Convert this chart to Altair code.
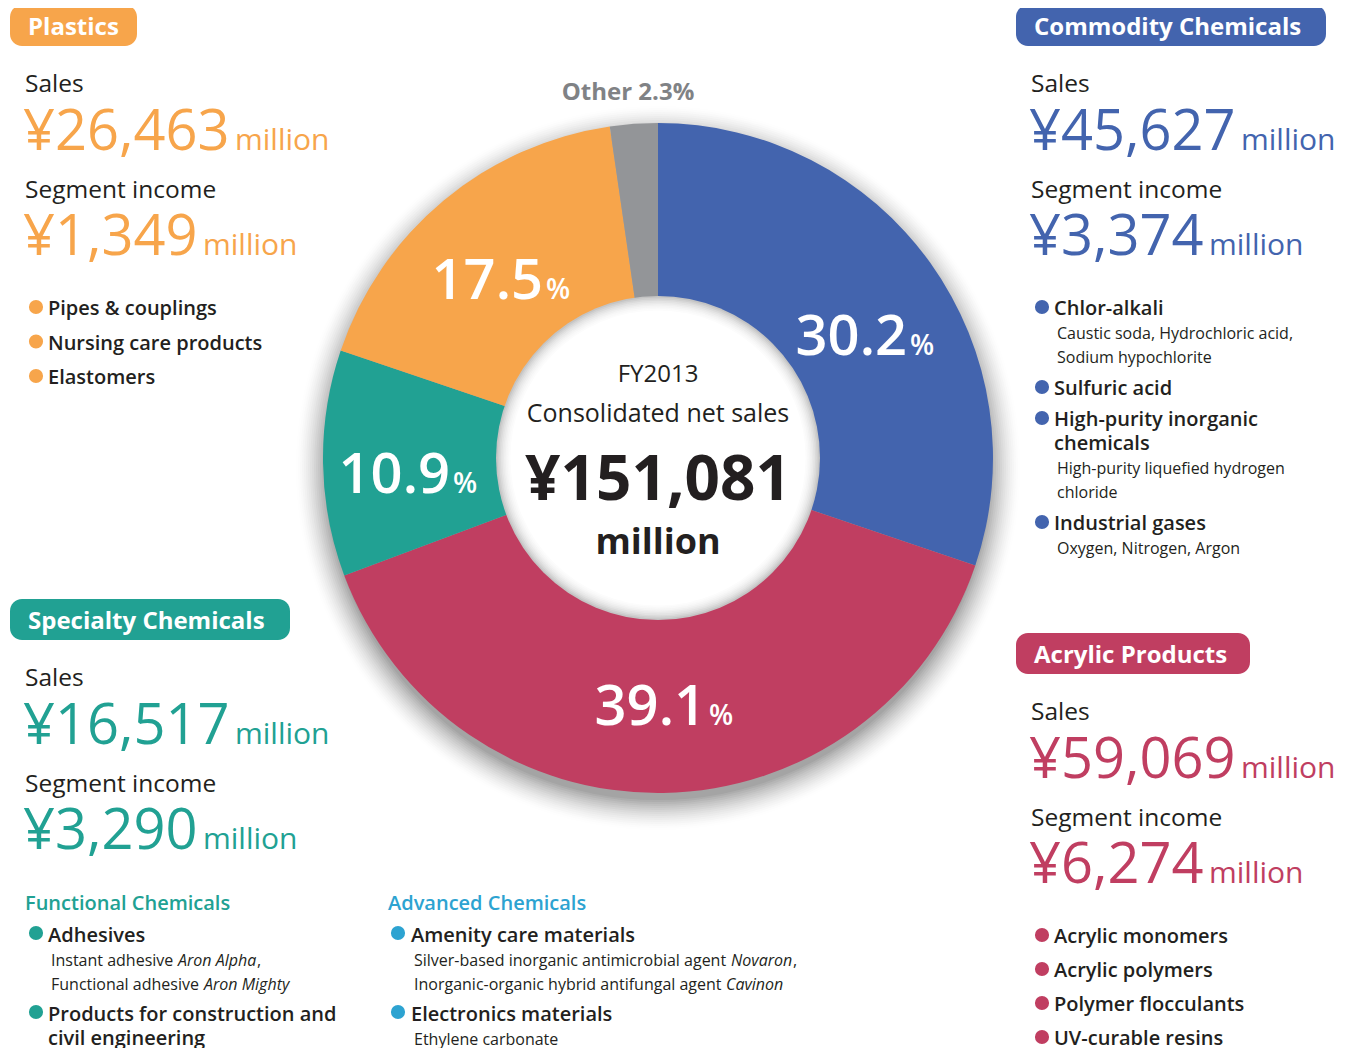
import altair as alt
import pandas as pd

# ---------------- data ----------------
segments = ["Commodity Chemicals", "Acrylic Products", "Specialty Chemicals", "Plastics", "Other"]
shares = [30.2, 39.1, 10.9, 17.5, 2.3]
seg_colors = ["#4364AE", "#C03E61", "#21A193", "#F7A54B", "#939598"]
share_text = ["30.2", "39.1", "10.9", "17.5"]
sales_values = ["¥45,627", "¥59,069", "¥16,517", "¥26,463"]
income_values = ["¥3,374", "¥6,274", "¥3,290", "¥1,349"]
center_lines = ["FY2013", "Consolidated net sales", "¥151,081", "million"]
other_label = "Other 2.3%"
plastics_items = ["Pipes & couplings", "Nursing care products", "Elastomers"]
acrylic_items = ["Acrylic monomers", "Acrylic polymers", "Polymer flocculants", "UV-curable resins"]
commodity_heads = ["Chlor-alkali", "Sulfuric acid", "High-purity inorganic", "chemicals", "Industrial gases"]
commodity_subs = ["Caustic soda, Hydrochloric acid,", "Sodium hypochlorite",
                  "High-purity liquefied hydrogen", "chloride", "Oxygen, Nitrogen, Argon"]
specialty_groups = ["Functional Chemicals", "Advanced Chemicals"]
functional_heads = ["Adhesives", "Products for construction and", "civil engineering"]
advanced_heads = ["Amenity care materials", "Electronics materials"]

# ---------------- style / layout ----------------
FONT = "Open Sans"
DARK = "#231F20"
CYAN = "#2DA3D1"
OTHER_TXT = "#808285"
W, H = 1332, 1040
CX, CY = 658 - 8, 458 - 8
R_OUT, R_IN = 335, 162


def P(v):
    return v - 8


texts = []


def T(text, x, y, size, color=DARK, weight="normal", italic=False, align="left"):
    texts.append(dict(text=text, x=P(x), y=P(y), size=size, color=color,
                      weight=weight, italic=italic, align=align))


# segment panels: (index, x, badge top, badge width)
panels = [(0, 1031, 5, 310), (1, 1031, 633, 234), (2, 25, 599, 280), (3, 25, 5, 127)]
badges = []
for i, x, yb, bw in panels:
    badges.append(dict(x=P(x - 15), x2=P(x - 15 + bw), y=P(yb), y2=P(yb + 41), c=seg_colors[i]))
    T(segments[i], x + 3, yb + 30, 24, "#FFFFFF", "bold")
    T("Sales", x, yb + 87, 24.5)
    T(sales_values[i], x - 2, yb + 145, 56, seg_colors[i])
    T("million", x + 210, yb + 145, 30, seg_colors[i])
    T("Segment income", x, yb + 193, 24.5)
    T(income_values[i], x - 2, yb + 250, 56, seg_colors[i])
    T("million", x + 178, yb + 250, 30, seg_colors[i])

bullets = []


def B(x, y, c):
    bullets.append(dict(x=P(x), y=P(y), c=c))


# Plastics list
for k, item in enumerate(plastics_items):
    B(36, 307 + 34.5 * k, seg_colors[3])
    T(item, 48, 315 + 34.5 * k, 20, DARK, 600)

# Acrylic list
for k, item in enumerate(acrylic_items):
    B(1042, 935 + 34 * k, seg_colors[1])
    T(item, 1054, 943 + 34 * k, 20, DARK, 600)

# Commodity list
for yb_ in [307, 387, 418, 522]:
    B(1042, yb_, seg_colors[0])
for h, yt in zip(commodity_heads, [315, 395, 426, 450, 530]):
    T(h, 1054, yt, 20, DARK, 600)
for s, yt in zip(commodity_subs, [339, 363, 474, 498, 554]):
    T(s, 1057, yt, 16)

# Specialty sub groups
T(specialty_groups[0], 25, 910, 20, seg_colors[2], 600)
T(specialty_groups[1], 388, 910, 20, CYAN, 600)
B(36, 933, seg_colors[2])
B(36, 1012, seg_colors[2])
for h, yt in zip(functional_heads, [942, 1021, 1045]):
    T(h, 48, yt, 20, DARK, 600)
T("Instant adhesive", 51, 966, 16)
T("Aron Alpha", 178, 966, 16, italic=True)
T(",", 257, 966, 16)
T("Functional adhesive", 51, 990, 16)
T("Aron Mighty", 204, 990, 16, italic=True)
B(398, 933, CYAN)
B(398, 1012, CYAN)
for h, yt in zip(advanced_heads, [942, 1021]):
    T(h, 411, yt, 20, DARK, 600)
T("Silver-based inorganic antimicrobial agent", 414, 966, 16)
T("Novaron", 731, 966, 16, italic=True)
T(",", 793, 966, 16)
T("Inorganic-organic hybrid antifungal agent", 414, 990, 16)
T("Cavinon", 726, 990, 16, italic=True)
T("Ethylene carbonate", 414, 1045, 16)

# donut labels: number right-aligned at split, % left-aligned
for s, (sx, sy) in zip(share_text, [(907, 355), (706, 725), (450, 493), (543, 299)]):
    T(s, sx, sy, 56, "#FFFFFF", 600, align="right")
    T("%", sx + 3, sy, 28, "#FFFFFF", 600)

T(other_label, 628, 100, 24, OTHER_TXT, "bold", align="center")

# center
T(center_lines[0], 658, 382, 24, align="center")
T(center_lines[1], 658, 422, 25, align="center")
T(center_lines[2], 658, 500, 62, DARK, "bold", align="center")
T(center_lines[3], 658, 554, 36, DARK, "bold", align="center")

# shading discs (decoration): outer drop shadow and inner rim of the centre disc
shadow_rows = []
n_out = 17
for k in range(n_out):
    r = 364 - 2 * k
    t = k / (n_out - 1)
    g = int(round(255 - (255 - 164) * t ** 1.6))
    shadow_rows.append(dict(x=CX, y=CY + 10, s=(2 * r) ** 2, c="#%02x%02x%02x" % (g, g, g), o=k))
inner_rows = []
inner_greys = [196, 208, 218, 227, 234, 240, 245, 249, 252, 255]
for k, g in enumerate(inner_greys):
    r = R_IN - 1.6 * k
    inner_rows.append(dict(x=CX, y=CY, s=(2 * r) ** 2, c="#%02x%02x%02x" % (g, g, g), o=k))

# ---------------- charts ----------------
X = alt.X("x:Q", scale=None, axis=None)
Y = alt.Y("y:Q", scale=None, axis=None)


def disc_layer(rows):
    return alt.Chart(pd.DataFrame(rows)).mark_point(
        shape="circle", filled=True, opacity=1, strokeWidth=0
    ).encode(
        x=X, y=Y,
        size=alt.Size("s:Q", scale=None, legend=None),
        color=alt.Color("c:N", scale=None),
        order=alt.Order("o:Q"),
    )


shadow = disc_layer(shadow_rows)
inner = disc_layer(inner_rows)

donut_df = pd.DataFrame({"segment": segments, "share": shares, "idx": list(range(len(segments)))})
donut = alt.Chart(donut_df).mark_arc(outerRadius=R_OUT, innerRadius=R_IN - 4).encode(
    theta=alt.Theta("share:Q", stack=True),
    order=alt.Order("idx:Q"),
    color=alt.Color("segment:N", scale=alt.Scale(domain=segments, range=seg_colors), legend=None),
    x=alt.value(CX), y=alt.value(CY),
)

badge_layer = alt.Chart(pd.DataFrame(badges)).mark_rect(cornerRadius=12).encode(
    x=X, x2="x2:Q", y=Y, y2="y2:Q", color=alt.Color("c:N", scale=None))

bullet_layer = alt.Chart(pd.DataFrame(bullets)).mark_circle(size=200, opacity=1).encode(
    x=X, y=Y, color=alt.Color("c:N", scale=None))

tdf = pd.DataFrame(texts)
text_layers = []
for (wt, it, al), sub in tdf.groupby(["weight", "italic", "align"], sort=False):
    kw = dict(font=FONT, align=al, baseline="alphabetic", fontWeight=wt)
    if it:
        kw["fontStyle"] = "italic"
    text_layers.append(
        alt.Chart(sub).mark_text(**kw).encode(
            x=X, y=Y, text="text:N",
            size=alt.Size("size:Q", scale=None, legend=None),
            color=alt.Color("color:N", scale=None))
    )

chart = alt.layer(shadow, donut, inner, badge_layer, bullet_layer, *text_layers).properties(
    width=W, height=H, padding=0, autosize=alt.AutoSizeParams(type="none")
).configure_view(stroke=None)

chart.save("out.html", embed_options={"renderer": "svg", "actions": False})
